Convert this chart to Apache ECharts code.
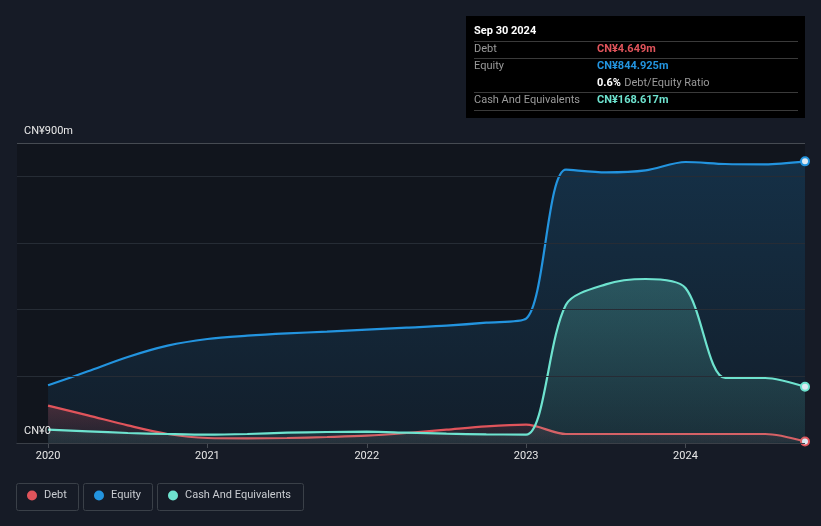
<!DOCTYPE html>
<html>
<head>
<meta charset="utf-8">
<script src="https://cdn.jsdelivr.net/npm/echarts@6/dist/echarts.min.js"></script>
<style>
html,body{margin:0;padding:0;background:#161b26;}
#chart_main{width:821px;height:526px;}
</style>
</head>
<body>
<div id="chart_main"></div>
<script>
// quarters as decimal years
var dates = [2020.0, 2020.25, 2020.5, 2020.75, 2021.0, 2021.25, 2021.5, 2021.75,
	2022.0, 2022.25, 2022.5, 2022.75, 2023.0, 2023.25, 2023.5, 2023.75,
	2024.0, 2024.25, 2024.5, 2024.75];
var debt = [112, 83, 53, 27, 15, 14, 15, 18, 22, 30, 40, 50, 55, 27, 27, 27, 27, 27, 27, 4.649];
var equity = [173, 215, 258, 292, 312, 322, 329, 334, 340, 346, 352, 361, 373, 820, 812, 818, 843, 837, 836, 844.925];
var cash = [40, 35, 30, 27, 25, 27, 31, 33, 34, 31, 28, 26, 25, 415, 476, 492, 465, 195, 195, 168.617];
var yearTicks = [2020, 2021, 2022, 2023, 2024];

var colDebt = '#e0545b';
var colEquity = '#2394df';
var colCash = '#6ee3cf';

function toPairs(vals, color) {
	var out = [];
	for (var i = 0; i < vals.length; i++) {
		var item = { value: [dates[i], vals[i]] };
		if (i == vals.length - 1) {
			item.symbol = 'circle';
			item.symbolSize = 8;
			item.itemStyle = { color: '#dfe9f2', borderColor: color, borderWidth: 2 };
		}
		out.push(item);
	}
	return out;
}

function grad(color, a1, a2) {
	return new echarts.graphic.LinearGradient(0, 0, 0, 1, [
		{ offset: 0, color: echarts.color.modifyAlpha(color, a1) },
		{ offset: 1, color: echarts.color.modifyAlpha(color, a2) }
	]);
}

function lineSeries(name, vals, color, a1, a2, z) {
	return {
		name: name,
		type: 'line',
		data: toPairs(vals, color),
		smooth: 0.3,
		symbol: 'none',
		showSymbol: true,
		showAllSymbol: true,
		z: z,
		lineStyle: { color: color, width: 2.2 },
		itemStyle: { color: color },
		areaStyle: { color: grad(color, a1, a2), origin: 'start' },
		emphasis: { disabled: true }
	};
}

var chart = echarts.init(document.getElementById('chart_main'));
var font = 'Roboto, "Noto Sans", sans-serif';

var option = {
	backgroundColor: '#161b26',
	animation: false,
	textStyle: { fontFamily: font },
	grid: {
		left: 17, right: 16, top: 143, bottom: 83,
		show: true, backgroundColor: '#11151d', borderWidth: 0
	},
	xAxis: {
		type: 'value',
		min: 2019.805,
		max: 2024.75,
		axisLine: { show: true, lineStyle: { color: '#474c54', width: 1 } },
		axisTick: { show: true, customValues: yearTicks, length: 5, lineStyle: { color: '#474c54' } },
		axisLabel: {
			customValues: yearTicks,
			formatter: function(v) { return String(Math.round(v)); },
			color: '#e8e8e8', fontSize: 11, margin: 8, fontFamily: font
		},
		splitLine: { show: false }
	},
	yAxis: {
		type: 'value',
		min: 0,
		max: 900,
		interval: 200,
		axisLine: { show: false },
		axisTick: { show: false },
		axisLabel: {
			inside: true,
			showMinLabel: true,
			showMaxLabel: true,
			formatter: function(v) {
				if (v == 0) return 'CN¥0';
				if (v == 900) return 'CN¥900m';
				return '';
			},
			color: '#e8e8e8', fontSize: 11, margin: 7,
			verticalAlign: 'bottom', padding: [0, 0, 6, 0], fontFamily: font
		},
		splitLine: {
			show: true,
			lineStyle: { color: ['#3a3f47', '#262c35', '#262c35', '#262c35', '#262c35', '#464b52'], width: 1 }
		},
		z: 10
	},
	legend: [
		{ data: ['Debt'], left: 27, top: 490 },
		{ data: ['Equity'], left: 94, top: 490 },
		{ data: ['Cash And Equivalents'], left: 168, top: 490 }
	].map(function(l) {
		l.icon = 'circle';
		l.itemWidth = 10;
		l.itemHeight = 10;
		l.itemGap = 0;
		l.padding = 0;
		l.selectedMode = false;
		l.textStyle = { color: '#c9ccd1', fontSize: 11, fontFamily: font, padding: [0, 0, 0, 2] };
		return l;
	}),
	graphic: [
		// legend boxes
		{ type: 'rect', shape: { x: 16.5, y: 483.5, width: 62, height: 27, r: 2 }, style: { fill: 'none', stroke: '#3a4048', lineWidth: 1 } },
		{ type: 'rect', shape: { x: 83.5, y: 483.5, width: 69, height: 27, r: 2 }, style: { fill: 'none', stroke: '#3a4048', lineWidth: 1 } },
		{ type: 'rect', shape: { x: 157.5, y: 483.5, width: 146, height: 27, r: 2 }, style: { fill: 'none', stroke: '#3a4048', lineWidth: 1 } },
		// info box
		{ type: 'rect', z: 100, shape: { x: 466, y: 16, width: 339, height: 102 }, style: { fill: '#000000' } },
		{ type: 'text', z: 101, x: 474, y: 31, style: { text: 'Sep 30 2024', fill: '#ffffff', font: 'bold 11px ' + font, verticalAlign: 'middle' } },
		{ type: 'line', z: 101, shape: { x1: 474, y1: 41.5, x2: 798, y2: 41.5 }, style: { stroke: '#3a3a3a', lineWidth: 1 } },
		{ type: 'text', z: 101, x: 474, y: 49, style: { text: 'Debt', fill: '#9a9a9a', font: '11px ' + font, verticalAlign: 'middle' } },
		{ type: 'text', z: 101, x: 597, y: 49, style: { text: 'CN¥4.649m', fill: colDebt, font: 'bold 11px ' + font, verticalAlign: 'middle' } },
		{ type: 'line', z: 101, shape: { x1: 474, y1: 58.5, x2: 798, y2: 58.5 }, style: { stroke: '#3a3a3a', lineWidth: 1 } },
		{ type: 'text', z: 101, x: 474, y: 66, style: { text: 'Equity', fill: '#9a9a9a', font: '11px ' + font, verticalAlign: 'middle' } },
		{ type: 'text', z: 101, x: 597, y: 66, style: { text: 'CN¥844.925m', fill: colEquity, font: 'bold 11px ' + font, verticalAlign: 'middle' } },
		{
			type: 'text', z: 101, x: 597, y: 83,
			style: {
				text: '{b|0.6%} {g|Debt/Equity Ratio}',
				verticalAlign: 'middle',
				rich: {
					b: { fill: '#ffffff', font: 'bold 11px ' + font },
					g: { fill: '#9a9a9a', font: '11px ' + font }
				}
			}
		},
		{ type: 'line', z: 101, shape: { x1: 474, y1: 92.5, x2: 798, y2: 92.5 }, style: { stroke: '#3a3a3a', lineWidth: 1 } },
		{ type: 'text', z: 101, x: 474, y: 100, style: { text: 'Cash And Equivalents', fill: '#9a9a9a', font: '11px ' + font, verticalAlign: 'middle' } },
		{ type: 'text', z: 101, x: 597, y: 100, style: { text: 'CN¥168.617m', fill: colCash, font: 'bold 11px ' + font, verticalAlign: 'middle' } },
		{ type: 'line', z: 101, shape: { x1: 474, y1: 110.5, x2: 798, y2: 110.5 }, style: { stroke: '#3a3a3a', lineWidth: 1 } }
	],
	series: [
		lineSeries('Equity', equity, colEquity, 0.3, 0.1, 2),
		lineSeries('Debt', debt, colDebt, 0.35, 0.08, 3),
		lineSeries('Cash And Equivalents', cash, colCash, 0.35, 0.12, 4)
	]
};

chart.setOption(option);
</script>
</body>
</html>
